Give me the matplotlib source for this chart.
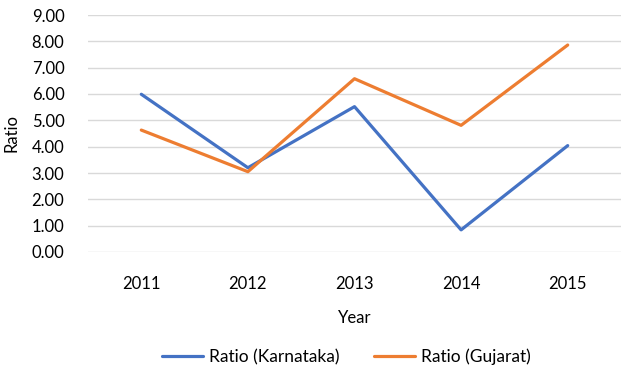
import matplotlib
matplotlib.use("Agg")
import matplotlib.pyplot as plt
from matplotlib.ticker import FormatStrFormatter

years = ["2011", "2012", "2013", "2014", "2015"]
karnataka = [5.99, 3.20, 5.52, 0.84, 4.04]
gujarat = [4.63, 3.05, 6.58, 4.81, 7.86]

plt.rcParams['font.family'] = ['Lato', 'DejaVu Sans']

fig = plt.figure(figsize=(6.21, 3.86), dpi=100)
ax = fig.add_axes([88/621, 1-252/386, 1-88/621, (252-15)/386])

x = range(len(years))
ax.plot(x, karnataka, color="#4472C4", lw=2.3, label="Ratio (Karnataka)", solid_capstyle="round")
ax.plot(x, gujarat, color="#ED7D31", lw=2.3, label="Ratio (Gujarat)", solid_capstyle="round")

ax.set_xlim(-0.5, len(years) - 0.5)
ax.set_ylim(0, 9)
ax.set_yticks(range(0, 10))
ax.yaxis.set_major_formatter(FormatStrFormatter("%.2f"))
ax.set_xticks(list(x))
ax.set_xticklabels(years)
ax.grid(axis="y", color="#D9D9D9", lw=1)
ax.set_axisbelow(True)
for s in ax.spines.values():
    s.set_visible(False)
ax.tick_params(length=0, labelsize=12, colors="#000000")
ax.tick_params(axis="x", pad=17)
ax.tick_params(axis="y", pad=17)
ax.set_xlabel("Year", fontsize=12, labelpad=13)
ax.set_ylabel("Ratio", fontsize=12, labelpad=9)

fig.legend(loc="center", bbox_to_anchor=(346/621, 1-357/386), ncol=2, frameon=False,
           fontsize=12.5, handlelength=2.4, columnspacing=2.0, handletextpad=0.3)

fig.savefig("out.png", dpi=100)
